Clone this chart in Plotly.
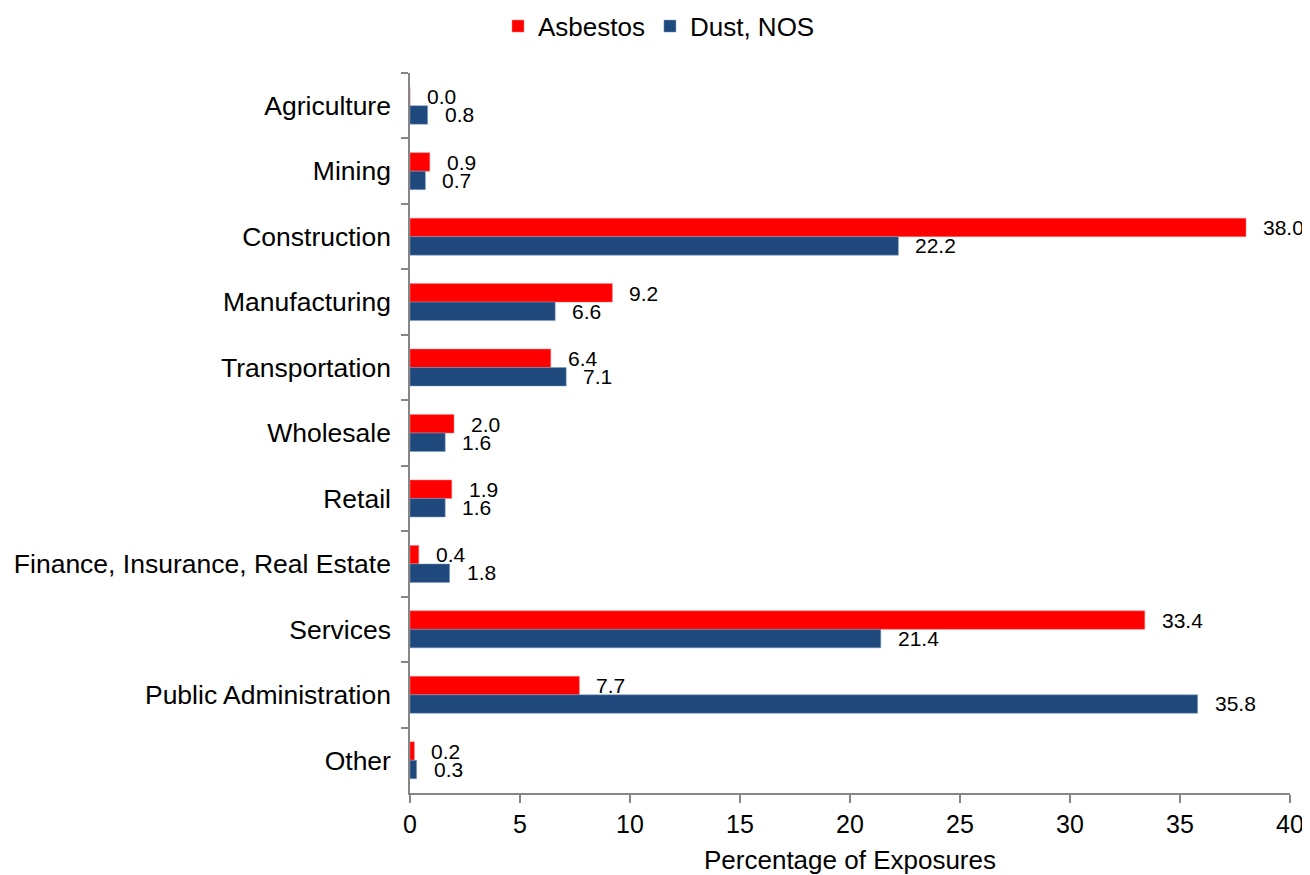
import plotly.graph_objects as go

industries = ["Agriculture", "Mining", "Construction", "Manufacturing", "Transportation",
              "Wholesale", "Retail", "Finance, Insurance, Real Estate", "Services",
              "Public Administration", "Other"]
asbestos = [0.0, 0.9, 38.0, 9.2, 6.4, 2.0, 1.9, 0.4, 33.4, 7.7, 0.2]
dust_nos = [0.8, 0.7, 22.2, 6.6, 7.1, 1.6, 1.6, 1.8, 21.4, 35.8, 0.3]

FONT = "Liberation Sans, Arial, sans-serif"
AXIS_GREY = "#868686"

fig = go.Figure()

fig.add_trace(go.Bar(
    y=industries, x=asbestos, orientation="h", name="Asbestos",
    marker=dict(color="#FF0000", line=dict(color="#FF8080", width=0.5)),
))
fig.add_trace(go.Bar(
    y=industries, x=dust_nos, orientation="h", name="Dust, NOS",
    marker=dict(color="#1F497D", line=dict(color="#7F9CC0", width=0.5)),
))

# value labels just right of each bar end
for cat, a, d in zip(industries, asbestos, dust_nos):
    fig.add_annotation(x=a, y=cat, text=f"{a:.1f}", showarrow=False,
                       xanchor="left", xshift=15, yshift=9,
                       font=dict(size=21, color="black", family=FONT))
    fig.add_annotation(x=d, y=cat, text=f"{d:.1f}", showarrow=False,
                       xanchor="left", xshift=15, yshift=-9,
                       font=dict(size=21, color="black", family=FONT))

# page body has an 8px margin, so the figure is a bit smaller than the window
fig.update_layout(
    width=1302, height=867,
    margin=dict(l=402, r=20, t=65, b=82),
    barmode="group", bargap=0.435, bargroupgap=0,
    plot_bgcolor="white", paper_bgcolor="white",
    font=dict(family=FONT, size=26, color="black"),
    showlegend=True,
    legend=dict(orientation="h", xref="container", yref="container",
                x=0.5, xanchor="center", y=0.979, yanchor="middle",
                font=dict(size=26), traceorder="normal"),
)

fig.update_xaxes(
    range=[0, 40], dtick=5, showgrid=False, zeroline=False, automargin=False,
    showline=True, linecolor=AXIS_GREY, linewidth=1.5,
    ticks="outside", ticklen=8, tickcolor=AXIS_GREY, tickwidth=1.5,
    tickfont=dict(size=25),
    title=dict(text="Percentage of Exposures", font=dict(size=26), standoff=14),
)
fig.update_yaxes(
    autorange="reversed", showgrid=False, zeroline=False, automargin=False,
    showline=True, linecolor=AXIS_GREY, linewidth=1.5,
    ticks="outside", tickson="boundaries", ticklen=7, tickcolor=AXIS_GREY, tickwidth=1.5,
    tickfont=dict(size=26.5), ticklabelstandoff=12,
)

fig.write_html("out.html")
